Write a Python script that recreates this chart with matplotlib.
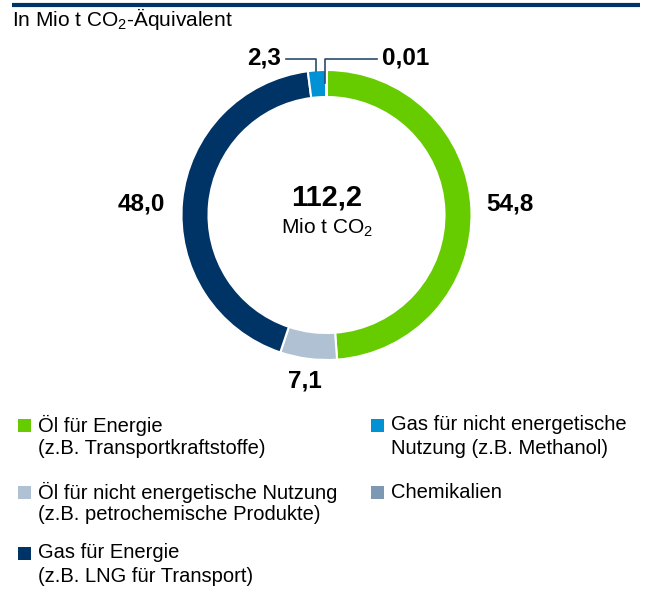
import matplotlib.pyplot as plt
import numpy as np
from matplotlib.patches import Rectangle

plt.rcParams['font.family'] = ['Liberation Sans', 'DejaVu Sans']
plt.rcParams['mathtext.fontset'] = 'custom'
plt.rcParams['mathtext.rm'] = 'Liberation Sans'

# data (Mio t CO2-Äquivalent), clockwise from the top
categories = ['Öl für Energie', 'Öl für nicht energetische Nutzung', 'Gas für Energie',
              'Gas für nicht energetische Nutzung', 'Chemikalien']
values = [54.8, 7.1, 48.0, 2.3, 0.01]
value_labels = ['54,8', '7,1', '48,0', '2,3', '0,01']
colors = ['#66cc00', '#b0c1d4', '#003366', '#0092d4', '#7d98b3']
total_label = '112,2'

legend_lines = [
    ('Öl für Energie', '(z.B. Transportkraftstoffe)'),
    ('Öl für nicht energetische Nutzung', '(z.B. petrochemische Produkte)'),
    ('Gas für Energie', '(z.B. LNG für Transport)'),
    ('Gas für nicht energetische', 'Nutzung (z.B. Methanol)'),
    ('Chemikalien', ''),
]

W, H = 651, 590
fig = plt.figure(figsize=(W / 100, H / 100), dpi=100)
ax = fig.add_axes([0, 0, 1, 1])

cx, cy, R = 326.5, H - 215, 145
wedges, _ = ax.pie(values, colors=colors, startangle=90, counterclock=False,
                   center=(cx, cy), radius=R,
                   wedgeprops=dict(width=27, edgecolor='white', linewidth=1.5))
ax.set_xlim(0, W)
ax.set_ylim(0, H)
ax.set_aspect('equal')
ax.axis('off')

# top rule and unit line
ax.plot([12, 640], [H - 5, H - 5], color='#003366', lw=3, solid_capstyle='butt')
ax.text(12, H - 19, 'In Mio t CO$_2$-Äquivalent', fontsize=15, va='center', ha='left')

# centre text
ax.text(cx, H - 197, total_label, fontsize=21, fontweight='bold', ha='center', va='center')
ax.text(cx, H - 228, 'Mio t CO$_2$', fontsize=15, ha='center', va='center')

# value labels for the large segments
lab_font = dict(fontsize=17.5, fontweight='bold', va='center')
ax.text(cx + R + 15, H - 204, value_labels[0], ha='left', **lab_font)
ax.text(305, H - 381, value_labels[1], ha='center', **lab_font)
ax.text(cx - R - 16, H - 204, value_labels[2], ha='right', **lab_font)

# leader labels for the small segments
line_col = '#2b4b6b'
ax.plot([286, 316, 316], [H - 59, H - 59, H - 71], color=line_col, lw=1.2)
ax.text(281, H - 58, value_labels[3], ha='right', **lab_font)
ax.plot([377, 325, 325], [H - 59, H - 59, H - 83], color=line_col, lw=1.2)
ax.text(382, H - 58, value_labels[4], ha='left', **lab_font)

# legend
positions = [(18, 425), (18, 492), (18, 553), (371, 425), (371, 492)]
for (lx, ly), col, (l1, l2) in zip(positions, colors, legend_lines):
    ax.add_patch(Rectangle((lx, H - ly - 6.5), 13, 13, color=col, lw=0))
    ax.text(lx + 20, H - ly, l1, fontsize=14.5, ha='left', va='center')
    if l2:
        ax.text(lx + 20, H - ly - 23, l2, fontsize=14.5, ha='left', va='center')

fig.savefig('out.png', dpi=100)
